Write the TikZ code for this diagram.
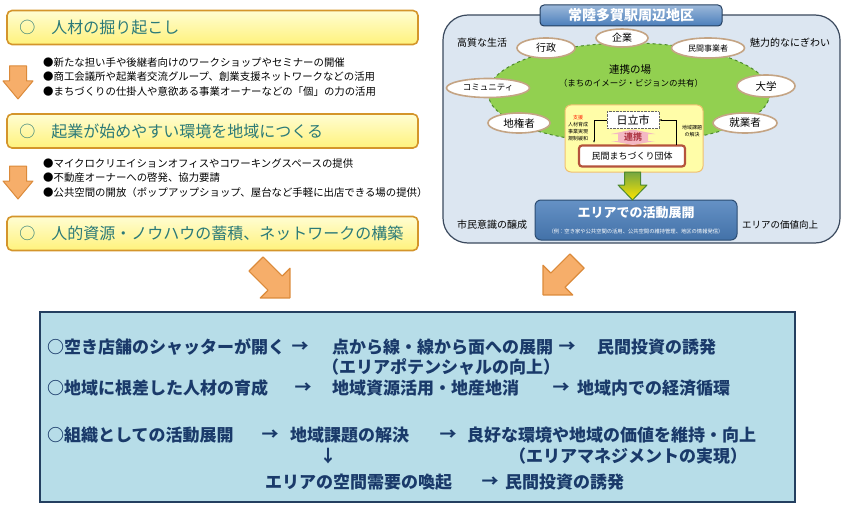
\documentclass[tikz,border=0pt]{standalone}
\usepackage{fontspec}
\setmainfont{Noto Sans CJK JP}
\usetikzlibrary{positioning,shapes.geometric,arrows.meta}

\definecolor{boxline}{HTML}{D4952B}
\definecolor{boxtop}{HTML}{FFFDD2}
\definecolor{boxbottom}{HTML}{FFF27C}
\definecolor{titletext}{HTML}{2B7A78}
\definecolor{arrowfill}{HTML}{F6AE6A}
\definecolor{arrowline}{HTML}{DB8A3A}
\definecolor{panelfill}{HTML}{DCE6F1}
\definecolor{panelline}{HTML}{3B4A5E}
\definecolor{meetgreen}{HTML}{92D050}
\definecolor{meetline}{HTML}{4E8A2E}
\definecolor{actorline}{HTML}{C4A484}
\definecolor{innerfill}{HTML}{FFFDA8}
\definecolor{innerline}{HTML}{F0C070}
\definecolor{groupline}{HTML}{B5533C}
\definecolor{linkpink}{HTML}{F4B8C4}
\definecolor{linktext}{HTML}{B03A48}
\definecolor{areablue}{HTML}{4A7EBB}
\definecolor{resultfill}{HTML}{B7DDE8}
\definecolor{resultline}{HTML}{243F60}
\definecolor{navytext}{HTML}{1A3A6A}

\tikzset{
  stepbox/.style={draw=boxline, line width=1.6pt, rounded corners=5pt,
    top color=boxtop, bottom color=boxbottom,
    minimum width=411pt, minimum height=34pt},
  steptitle/.style={anchor=west, inner sep=0, text=titletext,
    font=\fontsize{16pt}{19pt}\selectfont},
  bullets/.style={anchor=west, align=left, inner sep=0,
    font=\fontsize{10.4pt}{14.5pt}\selectfont},
  actor/.style={ellipse, draw=actorline, line width=1.6pt, fill=white, inner sep=0},
  side/.style={inner sep=0, font=\fontsize{10pt}{12pt}\selectfont},
  tiny/.style={inner sep=0, align=center, font=\fontsize{5pt}{7.2pt}\selectfont},
  outcome/.style={anchor=west, inner sep=0, text=navytext,
    font=\fontsize{17pt}{20pt}\selectfont\bfseries},
  flow/.style={outcome, anchor=center},
  flowarrow/.pic={\draw[draw=arrowline, fill=arrowfill, line width=1pt, line join=round]
    (-8.5,0) -- (8.5,0) -- (8.5,15) -- (15,15) -- (0,33) -- (-15,15) -- (-8.5,15) -- cycle;},
  bigarrow/.pic={\draw[draw=arrowline, fill=arrowfill, line width=1.2pt, line join=round]
    (-10,0) -- (10,0) -- (10,27) -- (21,27) -- (0,48) -- (-21,27) -- (-10,27) -- cycle;}
}

\begin{document}
\begin{tikzpicture}[x=1pt, y=-1pt]
\useasboundingbox (0,0) rectangle (850,516);

% left column: three steps
\node[stepbox] (box1) at (212.5,27.5) {};
\node[steptitle, right=13pt of box1.west] (title1) {○　人材の掘り起こし};
\node[bullets] (bul1) at (43,77) {●新たな担い手や後継者向けのワークショップやセミナーの開催\\●商工会議所や起業者交流グループ、創業支援ネットワークなどの活用\\●まちづくりの仕掛人や意欲ある事業オーナーなどの「個」の力の活用};
\pic at (18,66) {flowarrow};

\node[stepbox] (box2) at (212.5,131) {};
\node[steptitle, right=13pt of box2.west] (title2) {○　起業が始めやすい環境を地域につくる};
\node[bullets] (bul2) at (43,178) {●マイクロクリエイションオフィスやコワーキングスペースの提供\\●不動産オーナーへの啓発、協力要請\\●公共空間の開放（ポップアップショップ、屋台など手軽に出店できる場の提供）};
\pic at (18,166) {flowarrow};

\node[stepbox] (box3) at (212.5,233.5) {};
\node[steptitle, right=13pt of box3.west] (title3) {○　人的資源・ノウハウの蓄積、ネットワークの構築};

% right column: area
\node[draw=panelline, line width=1.2pt, fill=panelfill, rounded corners=25pt,
  minimum width=397pt, minimum height=228pt] (area) at (641.5,129) {};
\node[draw=resultline, line width=1pt, rounded corners=4pt, top color=areablue!55!white,
  bottom color=areablue, minimum width=182pt, minimum height=21pt, inner sep=0,
  text=white, font=\fontsize{14pt}{16pt}\selectfont\bfseries] (areatitle) at (631,15.5) {常陸多賀駅周辺地区};

\node[ellipse, draw=meetline, dashed, line width=1pt, fill=meetgreen,
  minimum width=282pt, minimum height=100pt] (meet) at (629,93) {};
\node[side, font=\fontsize{10.5pt}{12pt}\selectfont] (meettitle) at (630,70) {連携の場};
\node[side, font=\fontsize{8.5pt}{10pt}\selectfont] (meetsub) at (631,83) {（まちのイメージ・ビジョンの共有）};

\node[actor, minimum width=52pt, minimum height=18pt, font=\fontsize{10pt}{12pt}\selectfont] (kigyo) at (622,38) {企業};
\node[actor, minimum width=58pt, minimum height=20pt, font=\fontsize{10pt}{12pt}\selectfont] (gyosei) at (546,48) {行政};
\node[actor, minimum width=73pt, minimum height=20pt, font=\fontsize{8pt}{10pt}\selectfont] (minkanjigyo) at (708,48) {民間事業者};
\node[actor, minimum width=83pt, minimum height=19pt, font=\fontsize{8.5pt}{10pt}\selectfont] (community) at (488,88) {コミュニティ};
\node[actor, minimum width=58pt, minimum height=22pt, font=\fontsize{10.5pt}{12pt}\selectfont] (daigaku) at (766,86) {大学};
\node[actor, minimum width=62pt, minimum height=20pt, font=\fontsize{10.5pt}{12pt}\selectfont] (chikensha) at (519,123) {地権者};
\node[actor, minimum width=64pt, minimum height=20pt, font=\fontsize{10.5pt}{12pt}\selectfont] (shugyosha) at (745,123) {就業者};

\node[side] (life) at (482,43) {高質な生活};
\node[side] (bustle) at (790,43) {魅力的なにぎわい};
\node[side] (citizen) at (492,225) {市民意識の醸成};
\node[side, font=\fontsize{9.5pt}{12pt}\selectfont] (value) at (780,225) {エリアの価値向上};

% city and private group
\node[draw=innerline, line width=1pt, fill=innerfill, rounded corners=6pt,
  minimum width=138pt, minimum height=67pt] (inner) at (634,138.5) {};
\node[draw=black!60, densely dotted, fill=white, minimum width=52pt, minimum height=17pt,
  inner sep=0, font=\fontsize{11pt}{12pt}\selectfont] (hitachi) at (633,120) {日立市};
\node[draw=groupline, line width=2.2pt, fill=white, rounded corners=3pt,
  minimum width=106pt, minimum height=21pt, inner sep=0,
  font=\fontsize{9pt}{10pt}\selectfont] (group) at (632,156) {民間まちづくり団体};
\fill[linkpink] (633,129.5) -- (655,134) -- (648,134) -- (648,141) -- (655,141)
  -- (633,145) -- (611,141) -- (618,141) -- (618,134) -- (611,134) -- cycle;
\node[inner sep=0, text=linktext, font=\fontsize{9pt}{10pt}\selectfont\bfseries] (renkei) at (633,137.5) {連携};

\node[tiny] (support) at (578,128) {\textcolor{red!80!orange}{支援}\\人材育成\\事業実現\\規制緩和};
\node[tiny] (issue) at (692,131) {地域課題\\の解決};
\coordinate (supporttip) at (594,143);
\coordinate (issuefoot) at (676,145);
\draw[line width=0.6pt, -{Latex[length=2.5pt]}] (hitachi.west) -| (supporttip);
\draw[line width=0.6pt, -{Latex[length=2.5pt]}] (issuefoot) |- (hitachi.east);

% activity
\node[draw=resultline!80!areablue, line width=1pt, rounded corners=6pt,
  top color=areablue!85!white, bottom color=areablue!90!black,
  minimum width=202pt, minimum height=40pt] (activity) at (636,220) {};
\node[inner sep=0, text=white, font=\fontsize{13pt}{15pt}\selectfont\bfseries] (acttitle) at (636,213) {エリアでの活動展開};
\node[inner sep=0, text=white, font=\fontsize{5.3pt}{6pt}\selectfont] (actsub) at (636,231) {（例：空き家や公共空間の活用、公共空間の維持管理、地区の情報発信）};
\draw[draw=meetline, line width=1pt, line join=round, top color=meetgreen!80!black, bottom color=yellow!80!orange]
  (624.5,172) -- (640.5,172) -- (640.5,185) -- (647,185) -- (632.5,200) -- (618,185) -- (624.5,185) -- cycle;

% toward the result
\pic[rotate=45] at (256,264) {bigarrow};
\pic[rotate=-45] at (577,261) {bigarrow};

% result box
\node[draw=resultline, line width=2.5pt, fill=resultfill,
  minimum width=755pt, minimum height=190pt] (result) at (417.5,407) {};
\node[outcome] (r1a) at (47,347) {○空き店舗のシャッターが開く};
\node[flow] (r1x) at (300,347) {→};
\node[outcome] (r1b) at (332,347) {点から線・線から面への展開};
\node[flow] (r1y) at (567,347) {→};
\node[outcome] (r1c) at (597,347) {民間投資の誘発};
\node[outcome] (r2a) at (322,367) {（エリアポテンシャルの向上）};
\node[outcome] (r3a) at (47,388) {○地域に根差した人材の育成};
\node[flow] (r3x) at (303,388) {→};
\node[outcome] (r3b) at (332,388) {地域資源活用・地産地消};
\node[flow] (r3y) at (561,388) {→};
\node[outcome] (r3c) at (577,388) {地域内での経済循環};
\node[outcome] (r4a) at (47,435) {○組織としての活動展開};
\node[flow] (r4x) at (270,435) {→};
\node[outcome] (r4b) at (290,435) {地域課題の解決};
\node[flow] (r4y) at (448,435) {→};
\node[outcome] (r4c) at (467,435) {良好な環境や地域の価値を維持・向上};
\node[flow] (r5x) at (328,456) {↓};
\node[outcome] (r5a) at (509,456) {（エリアマネジメントの実現）};
\node[outcome] (r6a) at (265,482) {エリアの空間需要の喚起};
\node[flow] (r6x) at (490,482) {→};
\node[outcome] (r6b) at (505,482) {民間投資の誘発};
\end{tikzpicture}
\end{document}
